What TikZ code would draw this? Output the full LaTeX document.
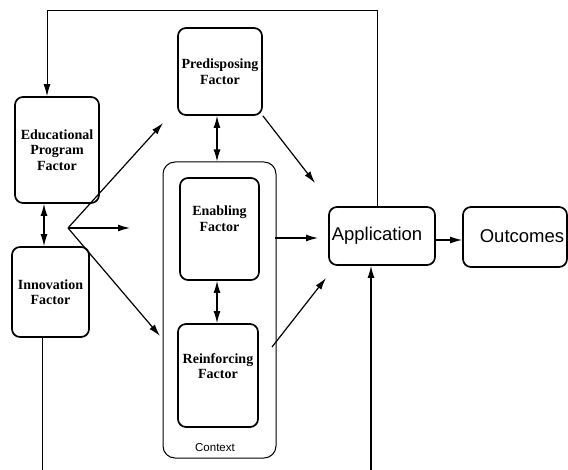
\documentclass[tikz,border=0pt]{standalone}
\usepackage{fontspec}
\setmainfont{Liberation Serif}
\newfontfamily\arialfont{Liberation Sans}
\usetikzlibrary{arrows.meta}
\begin{document}
\begin{tikzpicture}[x=1pt,y=-1pt,
  factorbox/.style={draw,line width=1.7pt,rounded corners=8pt,inner sep=0pt},
  ctxbox/.style={draw,line width=1pt,rounded corners=12pt,inner sep=0pt},
  ftext/.style={font=\fontsize{14}{15.5}\selectfont\bfseries,align=center,inner sep=0pt},
  stext/.style={font=\arialfont\fontsize{18.5}{21}\selectfont,inner sep=0pt},
  conn/.style={line width=1.2pt},
  arr/.style={conn,-{Latex[length=12pt,width=7pt]}},
  darr/.style={conn,{Latex[length=12pt,width=7pt]}-{Latex[length=12pt,width=7pt]}}]
\useasboundingbox (0,0) rectangle (568,470);
% boxes
\node[factorbox,minimum width=84pt,minimum height=106pt,ftext] (edu) at (57,150) {Educational\\Program\\Factor};
\node[factorbox,minimum width=77pt,minimum height=90pt,ftext] (inn) at (50.5,292) {Innovation\\Factor};
\node[factorbox,minimum width=84pt,minimum height=87pt,ftext] (pre) at (220,71.5) {Predisposing\\Factor};
\node[ctxbox,minimum width=113pt,minimum height=296pt] (ctx) at (219.5,310) {};
\node[font=\arialfont\fontsize{11.5}{13}\selectfont,inner sep=0pt] (ctxt) at (215,448) {Context};
\node[factorbox,minimum width=79pt,minimum height=102pt] (ena) at (219.5,229) {};
\node[ftext] (enat) at (219.5,218.5) {Enabling\\Factor};
\node[factorbox,minimum width=80pt,minimum height=103pt] (rei) at (218,375.5) {};
\node[ftext] (reit) at (218,366) {Reinforcing\\Factor};
\node[factorbox,minimum width=106pt,minimum height=58pt] (app) at (382,236) {};
\node[stext] (appt) at (377,236) {Application};
\node[factorbox,minimum width=104pt,minimum height=60pt] (out) at (515,237) {};
\node[stext] (outt) at (522,236) {Outcomes};
% helper coordinates
\coordinate (xa) at (47,0);
\coordinate (xb) at (377,0);
\coordinate (x44) at (44,0);
\coordinate (x217) at (217,0);
\coordinate (x42) at (42,0);
\coordinate (x371) at (371,0);
\coordinate (topl) at (47,11);
\coordinate (topr) at (377,11);
\coordinate (fan) at (68,228);
\coordinate (f1) at (163,123);
\coordinate (f2) at (130,228);
\coordinate (f3) at (160,336);
\coordinate (p1) at (315,183);
\coordinate (e0) at (275,238);
\coordinate (e1) at (318,238);
\coordinate (r0) at (272,347);
\coordinate (r1) at (326,278);
\coordinate (b1) at (42,470);
\coordinate (b2) at (371,470);
% connectors
\draw[arr,line width=1pt] (xb |- app.north) -- (topr) -- (topl) -- (xa |- edu.north);
\draw[darr] (x44 |- edu.south) -- (x44 |- inn.north);
\draw[arr] (fan) -- (f1);
\draw[arr] (fan) -- (f2);
\draw[arr] (fan) -- (f3);
\draw[darr] (x217 |- pre.south) -- (x217 |- ctx.north);
\draw[darr] (x217 |- ena.south) -- (x217 |- rei.north);
\draw[arr] (pre.south east) -- (p1);
\draw[arr] (e0) -- (e1);
\draw[arr] (r0) -- (r1);
\draw[arr] (app.east |- 0,240) -- (out.west |- 0,240);
\draw[conn,line width=1pt] (x42 |- inn.south) -- (b1);
\draw[arr] (b2) -- (x371 |- app.south);
\end{tikzpicture}
\end{document}
